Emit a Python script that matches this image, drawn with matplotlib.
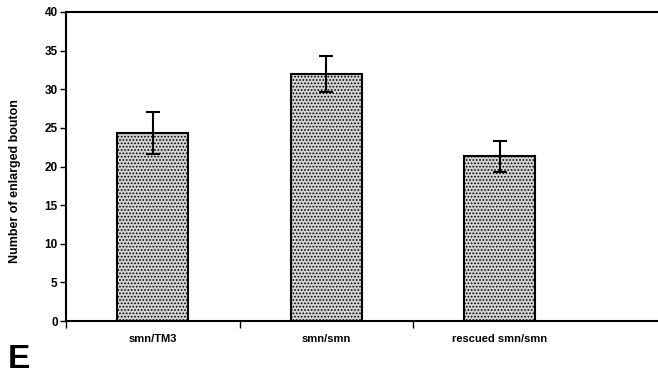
import matplotlib
matplotlib.use("Agg")
import matplotlib.pyplot as plt
import numpy as np

categories = ["smn/TM3", "smn/smn", "rescued smn/smn"]
values = [24.3, 32.0, 21.3]
errors = [2.7, 2.3, 2.0]
yticks = [0, 5, 10, 15, 20, 25, 30, 35, 40]

plt.rcParams['font.family'] = ['Liberation Sans', 'DejaVu Sans']
plt.rcParams['hatch.color'] = '#3a3a3a'
plt.rcParams['hatch.linewidth'] = 0.8

fig = plt.figure(figsize=(6.58, 3.74), dpi=100)
ax = fig.add_axes([66/658, 1-321/374, 1-66/658, (321-12)/374])

x = np.arange(len(categories))
ax.bar(x, values, width=0.41, color='#d4d4d4', edgecolor='black', linewidth=1.5,
       hatch='.....', zorder=2)
ax.errorbar(x, values, yerr=errors, fmt='none', ecolor='black', elinewidth=1.5,
            capsize=5, capthick=1.5, zorder=3)

ax.set_xlim(-0.5, -0.5 + 592/173.5)
ax.set_ylim(0, 40)
ax.set_yticks(yticks)
ax.set_yticklabels([str(t) for t in yticks], fontsize=8.5, fontweight='bold')
ax.set_xticks(x)
ax.set_xticklabels(categories, fontsize=8, fontweight='bold')
ax.tick_params(axis='x', which='major', length=0, pad=9)
ax.set_xticks([-0.5, 0.5, 1.5], minor=True)
ax.tick_params(axis='x', which='minor', length=5, width=1, direction='out')
ax.tick_params(axis='y', length=4, width=1, direction='out', pad=2)

fig.text(15/658, 1-181/374, "Number of enlarged bouton", fontsize=9, fontweight='bold',
         rotation=90, ha='center', va='center')

for s in ['left', 'bottom', 'top']:
    ax.spines[s].set_linewidth(1.5)
ax.spines['right'].set_visible(False)

fig.text(8/658, 1-368/374, "E", fontsize=24, fontweight='bold', ha='left', va='baseline')

fig.savefig("out.png", dpi=100)
